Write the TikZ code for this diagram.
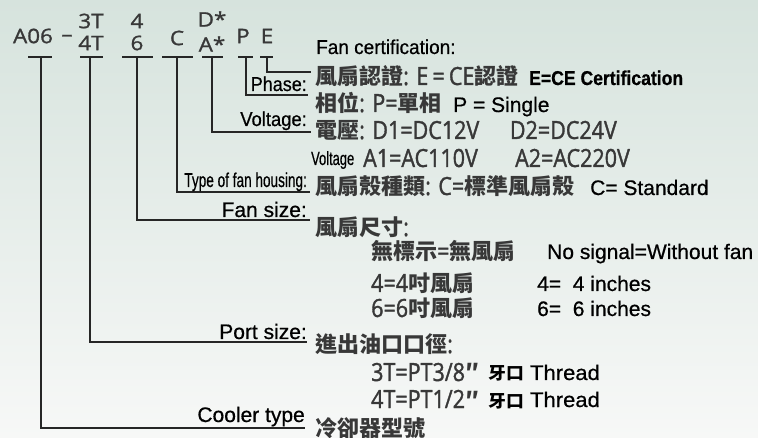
\documentclass[tikz,border=0pt]{standalone}
\usepackage{fontspec}
\setmainfont{Liberation Sans}[FakeBold=0.6]
\newfontfamily\codefont{Open Sans}[FakeBold=1.2]
\newfontfamily\rowfont{Open Sans}[FakeBold=1.4, FakeStretch=0.86]
\newfontfamily\zhfont{Noto Sans CJK TC}
\usepackage{xcolor}
\definecolor{code-gray}{HTML}{383838}
\definecolor{lead-line}{HTML}{262626}
\definecolor{bg-top}{HTML}{D6E3DD}
\definecolor{bg-mid}{HTML}{EAF0ED}
\definecolor{bg-bottom}{HTML}{F7F8F7}
\newcommand{\zh}[1]{{\zhfont\bfseries\fontsize{22}{24}\selectfont #1}}

\begin{document}
\begin{tikzpicture}[x=1pt, y=-1pt,
    lead/.style={draw=lead-line, line width=1.3pt},
    code/.style={font=\codefont\fontsize{20}{22}\selectfont, text=code-gray, inner sep=0pt, xscale=1.12},
    zhrow/.style={anchor=base west, inner sep=0pt, font=\rowfont\fontsize{25}{28}\selectfont, text=code-gray},
    lbl/.style={anchor=base east, inner sep=0pt, font=\fontsize{21}{24}\selectfont},
    gloss/.style={anchor=base west, inner sep=0pt, font=\fontsize{21}{24}\selectfont}]
    % Sheet: 758 x 438, y runs downwards
    %   code letters at y=20..43, bars under them at y=57
    %   leaders turn right at the row they explain, end near x=310
    %   Chinese rows start at x=315, indented rows at x=371
    \shade[top color=bg-top, middle color=bg-mid, bottom color=bg-bottom]
      (0,0) rectangle (758,438);
    \useasboundingbox (0,0) rectangle (758,438);

    % model code
    \node[code] (cA06) at (33,36) {A06};
    \node[code] (cDash) at (67,38) {–};
    \node[code] (c3T) at (91,21) {3T};
    \node[code] (c4T) at (91,43) {4T};
    \node[code] (c4) at (137,21) {4};
    \node[code] (c6) at (137,43) {6};
    \node[code] (cC) at (177,38) {C};
    \node[code] (cD) at (212,19) {D*};
    \node[code] (cA) at (212,44) {A*};
    \node[code] (cP) at (243,36) {P};
    \node[code] (cE) at (267,36) {E};

    % bars under the code
    \draw[lead] (28,57) -- (52,57);
    \draw[lead] (80,57) -- (103,57);
    \draw[lead] (122,57) -- (153,57);
    \draw[lead] (162,57) -- (193,57);
    \draw[lead] (202,57) -- (223,57);
    \draw[lead] (238,57) -- (253,57);
    \draw[lead] (260,57) -- (273,57);

    % leader ends
    \coordinate (tE) at (267,57);   \coordinate (eE) at (311,72);
    \coordinate (tP) at (246,57);   \coordinate (eP) at (308,95);
    \coordinate (tA) at (212,57);   \coordinate (eA) at (311,132);
    \coordinate (tC) at (177,57);   \coordinate (eC) at (310,192);
    \coordinate (t46) at (137,57);  \coordinate (e46) at (310,220);
    \coordinate (t3T) at (90,57);   \coordinate (e3T) at (307,342);
    \coordinate (tA06) at (41,57);  \coordinate (eA06) at (305,428);
    \draw[lead] (tE) |- (eE);
    \draw[lead] (tP) |- (eP);
    \draw[lead] (tA) |- (eA);
    \draw[lead] (tC) |- (eC);
    \draw[lead] (t46) |- (e46);
    \draw[lead] (t3T) |- (e3T);
    \draw[lead] (tA06) |- (eA06);

    % english labels on the leaders
    \node[anchor=base west, inner sep=0pt, font=\fontsize{20}{22}\selectfont, xscale=0.95] (lCert) at (316,54) {Fan certification:};
    \node[lbl, font=\fontsize{20}{22}\selectfont, xscale=0.9] (lPhase) at (307,91) {Phase:};
    \node[lbl, font=\fontsize{20}{22}\selectfont, xscale=0.92] (lVolt) at (307,126) {Voltage:};
    \node[lbl, font=\fontsize{20}{22}\selectfont, xscale=0.68] (lHouse) at (307,187) {Type of fan housing:};
    \node[lbl] (lSize) at (307,217) {Fan size:};
    \node[lbl] (lPort) at (307,339) {Port size:};
    \node[lbl] (lType) at (305,422) {Cooler type};

    % chinese rows
    \node[zhrow] (rCert) at (315,85) {\zh{風扇認證}: E\,=\,CE\zh{認證}};
    \node[anchor=base west, inner sep=0pt, font=\bfseries\fontsize{20}{22}\selectfont, xscale=0.88] (gCert) at (529,85) {E=CE Certification};
    \node[zhrow] (rPhase) at (315,112) {\zh{相位}: P=\zh{單相}};
    \node[gloss] (gPhase) at (453,112) {P = Single};
    \node[zhrow] (rVolt) at (315,139) {\zh{電壓}: D1=DC12V};
    \node[zhrow, anchor=base east] (rVoltD2) at (617,139) {D2=DC24V};
    \node[anchor=base west, inner sep=0pt, font=\fontsize{19}{20}\selectfont, xscale=0.68] (lVoltAC) at (311,165) {Voltage};
    \node[zhrow] (rVoltA1) at (363,167) {A1=AC110V};
    \node[zhrow, anchor=base east] (rVoltA2) at (630,167) {A2=AC220V};
    \node[zhrow] (rHouse) at (315,195) {\zh{風扇殼種類}: C=\zh{標準風扇殼}};
    \node[gloss] (gHouse) at (590,195) {C= Standard};
    \node[zhrow] (rSize) at (315,236) {\zh{風扇尺寸}:};
    \node[zhrow] (rSize0) at (371,260) {\zh{無標示}=\zh{無風扇}};
    \node[gloss] (gSize0) at (547,259) {No signal=Without fan};
    \node[zhrow] (rSize4) at (371,292) {4=4\zh{吋風扇}};
    \node[gloss] (gSize4) at (537,291) {4=~~4 inches};
    \node[zhrow] (rSize6) at (371,317) {6=6\zh{吋風扇}};
    \node[gloss] (gSize6) at (537,316) {6=~~6 inches};
    \node[zhrow] (rPort) at (315,353) {\zh{進出油口口徑}:};
    \node[zhrow] (rPort3) at (371,381) {3T=PT3/8\zh{″}};
    \node[gloss, xscale=1.05] (gPort3) at (488,380) {{\zhfont\bfseries\fontsize{17}{20}\selectfont\color{black}牙口} Thread};
    \node[zhrow] (rPort4) at (371,408) {4T=PT1/2\zh{″}};
    \node[gloss, xscale=1.05] (gPort4) at (488,407) {{\zhfont\bfseries\fontsize{17}{20}\selectfont\color{black}牙口} Thread};
    \node[zhrow] (rType) at (315,436) {\zh{冷卻器型號}};
  \end{tikzpicture}
\end{document}
